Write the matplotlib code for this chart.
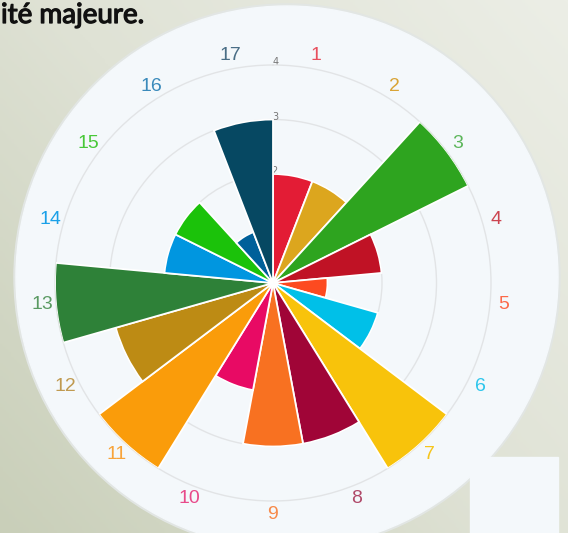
import numpy as np
import matplotlib as mpl
mpl.use('Agg')
import matplotlib.pyplot as plt
import matplotlib.patheffects as pe
from matplotlib.patches import Circle, Rectangle
from matplotlib.colors import LinearSegmentedColormap

# SDG scores (1..17)
categories = ['1', '2', '3', '4', '5', '6', '7', '8', '9', '10',
              '11', '12', '13', '14', '15', '16', '17']
values = [2, 2, 4, 2, 1, 2, 4, 3, 3, 2, 4, 3, 4, 2, 2, 1, 3]
bar_colors = ['#e31c35', '#dca61e', '#2ea41f', '#c01225', '#fd4a20', '#00c0e8',
              '#f8c30b', '#a00537', '#f87121', '#e80a64', '#fa9c0a', '#bd8b14',
              '#2e8138', '#0096e0', '#1bc20a', '#00609a', '#064862']
label_colors = ['#e8505e', '#d9a436', '#5cb65a', '#cc4450', '#fc6a4a', '#2ec6ec',
                '#f6c51c', '#b04a6a', '#f78a4a', '#e84a8a', '#f8a43a', '#c09a50',
                '#5a9a62', '#1aa0e8', '#48c838', '#3a8abb', '#4a6e86']
rticks = [2, 3, 4]

W, H = 568, 533
fig = plt.figure(figsize=(W / 100, H / 100), dpi=100)

# background: slide texture, white disk, speech-bubble tail
bg = fig.add_axes([0, 0, 1, 1])
bg.set_xlim(0, W)
bg.set_ylim(H, 0)
bg.axis('off')
cmap = LinearSegmentedColormap.from_list('slide', ['#c9cfb9', '#dfe2d5', '#eceee6'])
yy, xx = np.mgrid[0:1:200j, 0:1:200j]
grad = 0.55 * xx + 0.45 * (1 - yy)
bg.imshow(grad, cmap=cmap, extent=[0, W, H, 0], aspect='auto', zorder=0)
bg.add_patch(Circle((287, 277), 273, color='#e2e6e4', zorder=1))
bg.add_patch(Circle((287, 277), 271, color='#f4f8fb', zorder=2))
bg.add_patch(Rectangle((470, 457), 88, 80, color='#f4f8fb', zorder=2))
bg.text(1, 23, 'ité majeure.', fontsize=20, family='Lato',
        color='#111111', ha='left', va='baseline', zorder=3,
        path_effects=[pe.withStroke(linewidth=0.9, foreground='#111111')])

# polar rose chart
cx, cy, R = 273, 283, 218
ax = fig.add_axes([(cx - R) / W, (H - cy - R) / H, 2 * R / W, 2 * R / H],
                  projection='polar')
ax.patch.set_alpha(0)
ax.set_theta_zero_location('N')
ax.set_theta_direction(-1)

n = len(categories)
step = 2 * np.pi / n
theta = (np.arange(n) + 0.5) * step
ax.bar(theta, values, width=step, color=bar_colors, edgecolor='white',
       linewidth=1.3, zorder=3)

ax.set_ylim(0, 4)
ax.set_yticks([1, 2, 3])
ax.set_yticklabels([])
ax.set_xticks([])
ax.yaxis.grid(True, color='#e2e4e6', linewidth=1)
ax.xaxis.grid(False)
ax.spines['polar'].set_color('#e2e4e6')
ax.spines['polar'].set_linewidth(1)

for r in rticks:
    ax.text(np.deg2rad(0.8), r + 0.05, str(r), fontsize=7, color='#777777',
            ha='center', va='center', zorder=2)

for t, lab, c in zip(theta, categories, label_colors):
    ax.text(t, 4.25, lab, color=c, fontsize=14, family='Liberation Sans',
            ha='center', va='center', zorder=4)

fig.savefig('out.png', dpi=100)
